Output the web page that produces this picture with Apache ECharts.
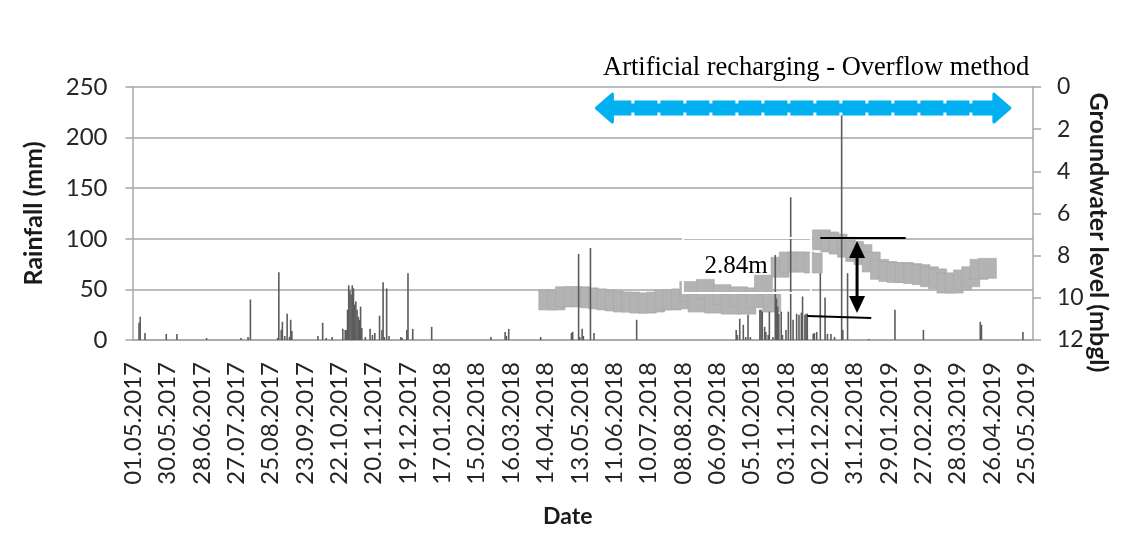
<!DOCTYPE html>
<html>
<head>
<meta charset="utf-8">
<script src="https://cdn.jsdelivr.net/npm/echarts@6/dist/echarts.min.js"></script>
<style>
  html, body { margin: 0; padding: 0; background: #ffffff; }
  #chart { width: 1125px; height: 541px; }
</style>
</head>
<body>
<div id="chart"></div>
<script>
// ---- Daily date axis ------------------------------------------------------
const axisStart = '01.05.2017';
const axisEnd = '30.05.2019';
const labelEveryDays = 29;

// ---- Daily rainfall (mm); days not listed had no rain --------------------
const rainDates = [
  '06.05.2017','07.05.2017','11.05.2017','29.05.2017','07.06.2017','02.07.2017','31.07.2017',
  '06.08.2017','08.08.2017','31.08.2017','01.09.2017','03.09.2017','04.09.2017','06.09.2017',
  '08.09.2017','10.09.2017','11.09.2017','12.09.2017','04.10.2017','08.10.2017','11.10.2017',
  '16.10.2017','25.10.2017','27.10.2017','28.10.2017','29.10.2017','30.10.2017','31.10.2017',
  '01.11.2017','02.11.2017','03.11.2017','04.11.2017','05.11.2017','06.11.2017','07.11.2017',
  '08.11.2017','09.11.2017','10.11.2017','13.11.2017','17.11.2017','19.11.2017','21.11.2017',
  '25.11.2017','27.11.2017','28.11.2017','29.11.2017','01.12.2017','03.12.2017','13.12.2017',
  '14.12.2017','18.12.2017','19.12.2017','23.12.2017','08.01.2018','27.02.2018','11.03.2018',
  '12.03.2018','14.03.2018','10.04.2018','06.05.2018','07.05.2018','12.05.2018','13.05.2018',
  '15.05.2018','16.05.2018','22.05.2018','25.05.2018','30.06.2018','22.09.2018','23.09.2018',
  '25.09.2018','28.09.2018','30.09.2018','02.10.2018','04.10.2018','12.10.2018','13.10.2018',
  '14.10.2018','16.10.2018','17.10.2018','19.10.2018','20.10.2018','23.10.2018','25.10.2018',
  '26.10.2018','27.10.2018','28.10.2018','30.10.2018','31.10.2018','03.11.2018','05.11.2018',
  '07.11.2018','09.11.2018','12.11.2018','14.11.2018','16.11.2018','17.11.2018','19.11.2018',
  '20.11.2018','21.11.2018','26.11.2018','27.11.2018','29.11.2018','02.12.2018','06.12.2018',
  '08.12.2018','11.12.2018','14.12.2018','20.12.2018','21.12.2018','25.12.2018','12.01.2019',
  '03.02.2019','27.02.2019','16.04.2019','17.04.2019','22.05.2019'
];
const rainValues = [
  17, 23, 7, 6, 6, 2, 2,
  3, 40, 2, 67, 10, 18, 4,
  26, 3, 20, 9, 4, 17, 2,
  3, 11, 10, 10, 30, 54, 49,
  45, 54, 51, 35, 38, 30, 23,
  20, 33, 12, 3, 11, 5, 7,
  24, 10, 57, 3, 51, 4, 3,
  2, 10, 66, 11, 13, 3, 8,
  4, 11, 3, 7, 8, 85, 3,
  11, 4, 91, 7, 20, 10, 5,
  21, 15, 3, 25, 3, 30, 30,
  28, 13, 8, 5, 28, 3, 84,
  41, 33, 26, 28, 5, 10, 28,
  141, 20, 26, 25, 27, 43, 25,
  26, 26, 6, 7, 8, 66, 42,
  6, 6, 3, 222, 10, 66, 1,
  30, 10, 18, 15, 8
];

// ---- Weekly groundwater level (m below ground level) ---------------------
const gwDates = [
  '16.04.2018','23.04.2018','30.04.2018','07.05.2018','14.05.2018','21.05.2018','28.05.2018',
  '04.06.2018','11.06.2018','18.06.2018','25.06.2018','02.07.2018','09.07.2018','16.07.2018',
  '23.07.2018','30.07.2018','06.08.2018','13.08.2018','20.08.2018','27.08.2018','03.09.2018',
  '10.09.2018','17.09.2018','24.09.2018','01.10.2018','08.10.2018','15.10.2018','22.10.2018',
  '29.10.2018','05.11.2018','12.11.2018','19.11.2018','26.11.2018','03.12.2018','10.12.2018',
  '17.12.2018','24.12.2018','31.12.2018','07.01.2019','14.01.2019','21.01.2019','28.01.2019',
  '04.02.2019','11.02.2019','18.02.2019','25.02.2019','04.03.2019','11.03.2019','18.03.2019',
  '25.03.2019','01.04.2019','08.04.2019','15.04.2019','22.04.2019'
];
const gwLevels = [
  10.1, 10.1, 9.95, 9.95, 9.95, 10.0, 10.05,
  10.1, 10.15, 10.2, 10.2, 10.25, 10.25, 10.2,
  10.1, 10.1, 10.05, 9.7, 10.2, 9.6, 10.25,
  9.85, 10.3, 9.95, 10.3, 10.0, 9.4, 10.2,
  8.55, 8.3, 8.3, 8.3, 8.35, 7.25, 7.35,
  7.45, 7.6, 7.8, 7.95, 8.3, 8.65, 8.75,
  8.8, 8.8, 8.85, 8.9, 9.0, 9.1, 9.3,
  9.3, 9.15, 9.0, 8.65, 8.6
];

// ---- Annotations (date, groundwater-axis value) --------------------------
const rechargeTitle = 'Artificial recharging - Overflow method';
const rechargeSpan = ['27.05.2018', '11.05.2019'];
const rechargeLevel = 1.0;
const riseLabel = '2.84m';
const riseLabelAt = ['22.09.2018', 8.5];
const riseBox = [['08.08.2018', 7.16], ['24.11.2018', 9.77]];
const riseTopLine = [['02.12.2018', 7.16], ['12.02.2019', 7.16]];
const riseBottomLine = [['21.11.2018', 10.86], ['14.01.2019', 10.96]];
const riseArrow = ['02.01.2019', 7.3, 10.72];

// ---- Build the category axis and series arrays ---------------------------
function parseDMY(s) {
  const [d, m, y] = s.split('.').map(Number);
  return Date.UTC(y, m - 1, d);
}
function fmtDMY(t) {
  const dt = new Date(t);
  return String(dt.getUTCDate()).padStart(2, '0') + '.' +
         String(dt.getUTCMonth() + 1).padStart(2, '0') + '.' + dt.getUTCFullYear();
}
const days = [];
for (let t = parseDMY(axisStart); t <= parseDMY(axisEnd); t += 86400000) days.push(fmtDMY(t));

const rainByDay = {};
rainDates.forEach((d, i) => { rainByDay[d] = rainValues[i]; });
const gwByDay = {};
gwDates.forEach((d, i) => { gwByDay[d] = gwLevels[i]; });

const rainSeries = days.map(d => (d in rainByDay ? rainByDay[d] : 0));
const gwSeries = days.map(d => (d in gwByDay ? gwByDay[d] : '-'));

const sans = 'Lato';
const gridColor = '#a6a6a6';

const chart = echarts.init(document.getElementById('chart'), null, { renderer: 'canvas' });

chart.setOption({
  animation: false,
  backgroundColor: '#ffffff',
  grid: { left: 132.5, right: 92, top: 87, bottom: 201, containLabel: false },
  xAxis: {
    type: 'category',
    data: days,
    boundaryGap: true,
    name: 'Date',
    nameLocation: 'middle',
    nameGap: 165,
    nameMoveOverlap: false,
    nameTextStyle: { fontFamily: sans, fontSize: 23, fontWeight: 'bold', color: '#1a1a1a', padding: [0, 30, 0, 0] },
    axisLine: { show: true, lineStyle: { color: gridColor, width: 1.5 } },
    axisTick: { show: false },
    axisLabel: {
      interval: labelEveryDays - 1,
      rotate: 90,
      margin: 22,
      fontFamily: sans,
      fontSize: 24,
      color: '#262626'
    },
    splitLine: { show: false }
  },
  yAxis: [
    {
      type: 'value',
      position: 'left',
      min: 0, max: 250, interval: 50,
      name: 'Rainfall (mm)',
      nameLocation: 'middle',
      nameRotate: 90,
      nameGap: 86,
      nameMoveOverlap: false,
      nameTextStyle: { fontFamily: sans, fontSize: 25, fontWeight: 'bold', color: '#1a1a1a' },
      axisLine: { show: true, lineStyle: { color: gridColor, width: 1.5 } },
      axisTick: { show: true, length: 7, lineStyle: { color: gridColor, width: 1.5 } },
      axisLabel: { margin: 25, fontFamily: sans, fontSize: 24, color: '#262626' },
      splitLine: { show: true, lineStyle: { color: gridColor, width: 1.5 } }
    },
    {
      type: 'value',
      position: 'right',
      inverse: true,
      min: 0, max: 12, interval: 2,
      name: 'Groundwater level (mbgl)',
      nameLocation: 'middle',
      nameRotate: -90,
      nameGap: 53,
      nameMoveOverlap: false,
      nameTextStyle: { fontFamily: sans, fontSize: 25, fontWeight: 'bold', color: '#1a1a1a', padding: [0, 0, 0, 38] },
      axisLine: { show: true, lineStyle: { color: gridColor, width: 1.5 } },
      axisTick: { show: true, length: 8, lineStyle: { color: gridColor, width: 1.5 } },
      axisLabel: { margin: 24, fontFamily: sans, fontSize: 23, color: '#262626' },
      splitLine: { show: false }
    }
  ],
  series: [
    {
      name: 'Groundwater level',
      type: 'line',
      yAxisIndex: 1,
      data: gwSeries,
      connectNulls: true,
      showAllSymbol: true,
      symbol: 'rect',
      symbolSize: [18, 20],
      lineStyle: { width: 0, opacity: 0 },
      itemStyle: { color: '#b3b3b3', borderColor: '#a8a8a8', borderWidth: 0.6 },
      emphasis: { disabled: true },
      z: 2
    },
    {
      name: 'Rainfall',
      type: 'bar',
      yAxisIndex: 0,
      data: rainSeries,
      barWidth: 1.6,
      itemStyle: { color: '#5c5c5c' },
      emphasis: { disabled: true },
      z: 3
    }
  ]
});

// ---- Annotation overlay, placed through the groundwater axis scales ------
function toPx(date, value) {
  return chart.convertToPixel({ seriesIndex: 0 }, [days.indexOf(date), value]);
}

function drawAnnotations() {
  const blue = '#00b0f0';
  const [ax1, ay] = toPx(rechargeSpan[0], rechargeLevel);
  const [ax2] = toPx(rechargeSpan[1], rechargeLevel);
  const headL = 16, headW = 14;

  const [bx1, by1] = toPx(riseBox[0][0], riseBox[0][1]);
  const [bx2, by2] = toPx(riseBox[1][0], riseBox[1][1]);
  const [tx1, ty1] = toPx(riseTopLine[0][0], riseTopLine[0][1]);
  const [tx2, ty2] = toPx(riseTopLine[1][0], riseTopLine[1][1]);
  const [lx1, ly1] = toPx(riseBottomLine[0][0], riseBottomLine[0][1]);
  const [lx2, ly2] = toPx(riseBottomLine[1][0], riseBottomLine[1][1]);
  const [vx, vy1] = toPx(riseArrow[0], riseArrow[1]);
  const [, vy2] = toPx(riseArrow[0], riseArrow[2]);
  const [labX, labY] = toPx(riseLabelAt[0], riseLabelAt[1]);
  const aH = 17, aW = 8;

  chart.setOption({
    graphic: [
      // recharge period: thick dashed double-headed arrow
      { type: 'line', z: 100, shape: { x1: ax1 + headL - 2, y1: ay, x2: ax2 - headL + 2, y2: ay },
        style: { stroke: blue, lineWidth: 9 } },
      { type: 'line', z: 100, shape: { x1: ax1 + headL - 4, y1: ay, x2: ax2 - headL + 4, y2: ay },
        style: { stroke: blue, lineWidth: 15, lineDash: [23, 3] } },
      { type: 'polygon', z: 100, shape: { points: [[ax1, ay], [ax1 + headL, ay - headW], [ax1 + headL, ay + headW]] },
        style: { fill: blue, stroke: blue, lineWidth: 3, lineJoin: 'round' } },
      { type: 'polygon', z: 100, shape: { points: [[ax2, ay], [ax2 - headL, ay - headW], [ax2 - headL, ay + headW]] },
        style: { fill: blue, stroke: blue, lineWidth: 3, lineJoin: 'round' } },
      { type: 'text', z: 100, x: 603, y: 68,
        style: { text: rechargeTitle, fontFamily: 'Liberation Serif', fontSize: 26.5, fill: '#000',
                 align: 'left', verticalAlign: 'middle' } },

      // groundwater rise annotation
      { type: 'rect', z: 100, shape: { x: bx1, y: by1, width: bx2 - bx1, height: by2 - by1 },
        style: { fill: null, stroke: '#ffffff', lineWidth: 2 } },
      { type: 'text', z: 101, x: labX, y: labY,
        style: { text: riseLabel, fontFamily: 'Liberation Serif', fontSize: 25, fill: '#000',
                 align: 'center', verticalAlign: 'middle' } },
      { type: 'line', z: 101, shape: { x1: tx1, y1: ty1, x2: tx2, y2: ty2 },
        style: { stroke: '#000', lineWidth: 2 } },
      { type: 'line', z: 101, shape: { x1: lx1, y1: ly1, x2: lx2, y2: ly2 },
        style: { stroke: '#000', lineWidth: 2 } },
      { type: 'line', z: 101, shape: { x1: vx, y1: vy1 + aH - 2, x2: vx, y2: vy2 - aH + 2 },
        style: { stroke: '#000', lineWidth: 3 } },
      { type: 'polygon', z: 101, shape: { points: [[vx, vy1], [vx - aW, vy1 + aH], [vx + aW, vy1 + aH]] },
        style: { fill: '#000' } },
      { type: 'polygon', z: 101, shape: { points: [[vx, vy2], [vx - aW, vy2 - aH], [vx + aW, vy2 - aH]] },
        style: { fill: '#000' } }
    ]
  });
}
drawAnnotations();
</script>
</body>
</html>
